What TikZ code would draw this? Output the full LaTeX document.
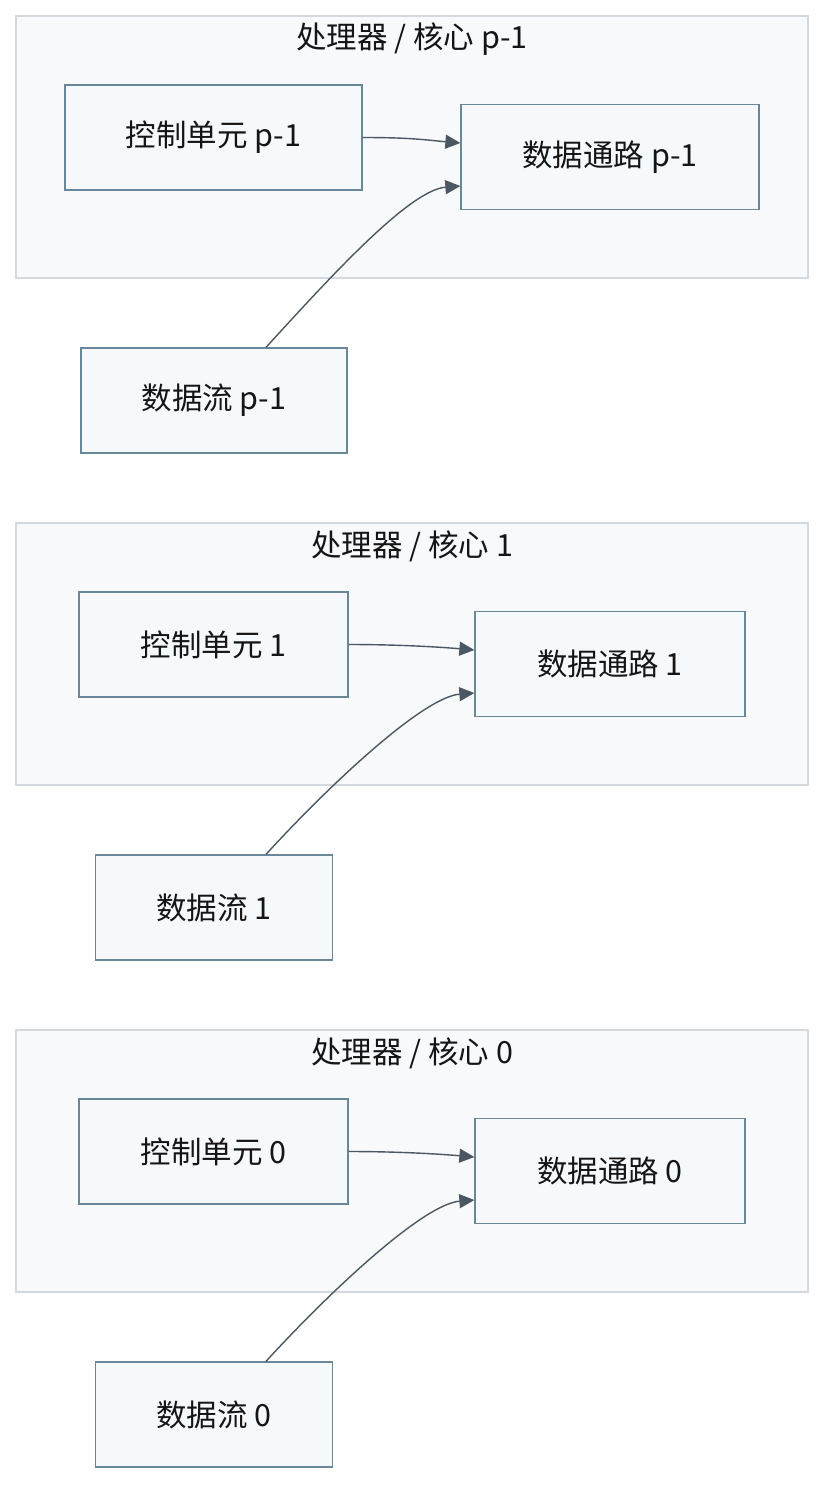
\documentclass[tikz,border=0pt]{standalone}
\usepackage{fontspec}
\setmainfont{Noto Sans CJK SC}
\usetikzlibrary{arrows.meta}
\definecolor{clfill}{HTML}{F7F9FB}
\definecolor{cldraw}{HTML}{D3D9DF}
\definecolor{ndfill}{HTML}{F6F9FB}
\definecolor{nddraw}{HTML}{6A8799}
\definecolor{arrc}{HTML}{4B5763}
\definecolor{txtc}{HTML}{151515}
\begin{document}
\begin{tikzpicture}[x=1pt,y=-1pt,
  cluster/.style={draw=cldraw,fill=clfill,line width=1.2pt},
  boxnode/.style={draw=nddraw,fill=ndfill,line width=1.3pt,minimum height=105pt,inner sep=0pt,text=txtc,font=\fontsize{30.5}{34}\selectfont},
  titlenode/.style={text=txtc,font=\fontsize{30.5}{34}\selectfont,inner sep=0pt},
  conn/.style={draw=arrc,line width=1.4pt,-{Triangle[length=15pt,width=14pt]}}]
\useasboundingbox (0,0) rectangle (840,1510);
\foreach \lab/\oy/\wa/\wb/\wc/\id in {p-1/0/297/298/266/a, 1/507/269/270/237/b, 0/1014/269/270/237/c}{
  \draw[cluster] (16,16+\oy) rectangle (808,278+\oy);
  \node[titlenode] (t\id) at (412,39+\oy) {处理器 / 核心 \lab};
  \node[boxnode,minimum width=\wa pt] (cu\id) at (213.5,137.5+\oy) {控制单元 \lab};
  \node[boxnode,minimum width=\wb pt] (dp\id) at (610,157+\oy) {数据通路 \lab};
  \node[boxnode,minimum width=\wc pt] (df\id) at (214,400.5+\oy) {数据流 \lab};
  \draw[conn] (cu\id.east) .. controls +(50,0) and +(-35,-3) .. ([yshift=14pt]dp\id.west);
  \draw[conn] ([xshift=52pt]df\id.north) .. controls +(64,-70) and +(-51,4) .. ([yshift=-29pt]dp\id.west);
}
\end{tikzpicture}
\end{document}
